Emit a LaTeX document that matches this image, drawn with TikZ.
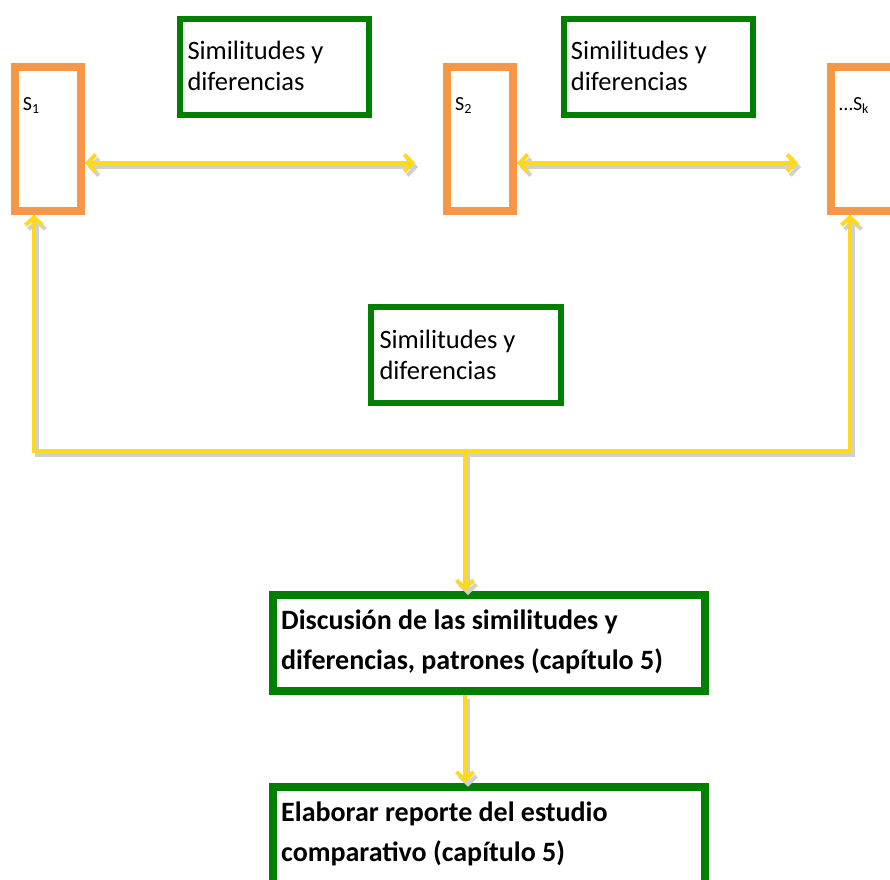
\documentclass[tikz,border=0pt]{standalone}
\usepackage{fontspec}
\setmainfont{Carlito}
\usetikzlibrary{arrows.meta}
\definecolor{sorange}{RGB}{247,150,70}
\definecolor{sgreen}{RGB}{0,128,0}
\definecolor{syellow}{RGB}{255,217,26}
\definecolor{sshadow}{RGB}{208,208,208}
\tikzset{ytip/.tip={Straight Barb[length=8pt,width=17pt]}}
\begin{document}
\begin{tikzpicture}[x=1pt,y=-1pt,
 sbox/.style={draw=sorange,line width=8pt,minimum width=66pt,minimum height=143.5pt,inner sep=0pt,fill=white},
 gbox/.style={draw=sgreen,line width=6pt,inner sep=0pt,fill=white},
 bbox/.style={draw=sgreen,line width=8pt,inner sep=0pt,fill=white},
 txt/.style={inner sep=0pt,anchor=base west,align=left,font=\fontsize{26.5}{31}\selectfont},
 btxt/.style={inner sep=0pt,anchor=base west,align=left,font=\fontsize{28}{40}\selectfont\bfseries},
 slabel/.style={inner sep=0pt,anchor=base west,font=\fontsize{20}{24}\selectfont},
 conn/.style={draw=syellow,line width=4pt},
 shadowed/.style={draw=sshadow,transform canvas={xshift=3pt,yshift=-4pt}}
]
\useasboundingbox (0,0) rectangle (890,879);
\fill[white] (0,0) rectangle (890,879);

% coordinates
\coordinate (h1) at (415,163);
\coordinate (h2) at (798,163);
\coordinate (v1) at (34,451);
\coordinate (v2) at (850,451);
\coordinate (m) at (465,451);

% boxes (S)
\node[sbox] (s1) at (48,138.75) {};
\node[sbox] (s2) at (480,138.75) {};
\node[sbox] (sk) at (864,138.75) {};
% green boxes
\node[gbox,minimum width=189pt,minimum height=95.7pt] (g1) at (274.2,66.85) {};
\node[gbox,minimum width=189pt,minimum height=95.7pt] (g2) at (658.5,66.85) {};
\node[gbox,minimum width=190pt,minimum height=96pt] (g3) at (466.3,355) {};
\node[bbox,minimum width=432pt,minimum height=95.5pt] (d) at (489,642.75) {};
\node[bbox,minimum width=432pt,minimum height=113.3pt] (e) at (489,843.35) {};

% connector shadows
\draw[conn,shadowed,{ytip}-{ytip}] (s1.east |- h1) -- (h1);
\draw[conn,shadowed,{ytip}-{ytip}] (s2.east |- h2) -- (h2);
\draw[conn,shadowed,{ytip}-{ytip}] (s1.south -| v1) -- (v1) -- (v2) -- (sk.south -| v2);
\draw[conn,shadowed,-{ytip}] (m) -- (m |- d.north);
\draw[conn,shadowed,-{ytip}] (m |- d.south) -- (m |- e.north);
% connectors
\draw[conn,{ytip}-{ytip}] (s1.east |- h1) -- (h1);
\draw[conn,{ytip}-{ytip}] (s2.east |- h2) -- (h2);
\draw[conn,{ytip}-{ytip}] (s1.south -| v1) -- (v1) -- (v2) -- (sk.south -| v2);
\draw[conn,-{ytip}] (m) -- (m |- d.north);
\draw[conn,-{ytip}] (m |- d.south) -- (m |- e.north);

% labels
\node[slabel] (l1) at (22.7,110.7) {S\textsubscript{1}};
\node[slabel] (l2) at (455,110.7) {S\textsubscript{2}};
\node[slabel] (lk) at (839,110.7) {…S\textsubscript{k}};
\node[txt] (t1) at (187.3,90.7) {Similitudes y\\diferencias};
\node[txt] (t2) at (570.7,90.7) {Similitudes y\\diferencias};
\node[txt] (t3) at (379.3,379.3) {Similitudes y\\diferencias};
\node[btxt] (td) at (281,669.3) {Discusión de las similitudes y\\diferencias, patrones (capítulo 5)};
\node[btxt] (te) at (281,861) {Elaborar reporte del estudio\\comparativo (capítulo 5)};
\end{tikzpicture}
\end{document}
